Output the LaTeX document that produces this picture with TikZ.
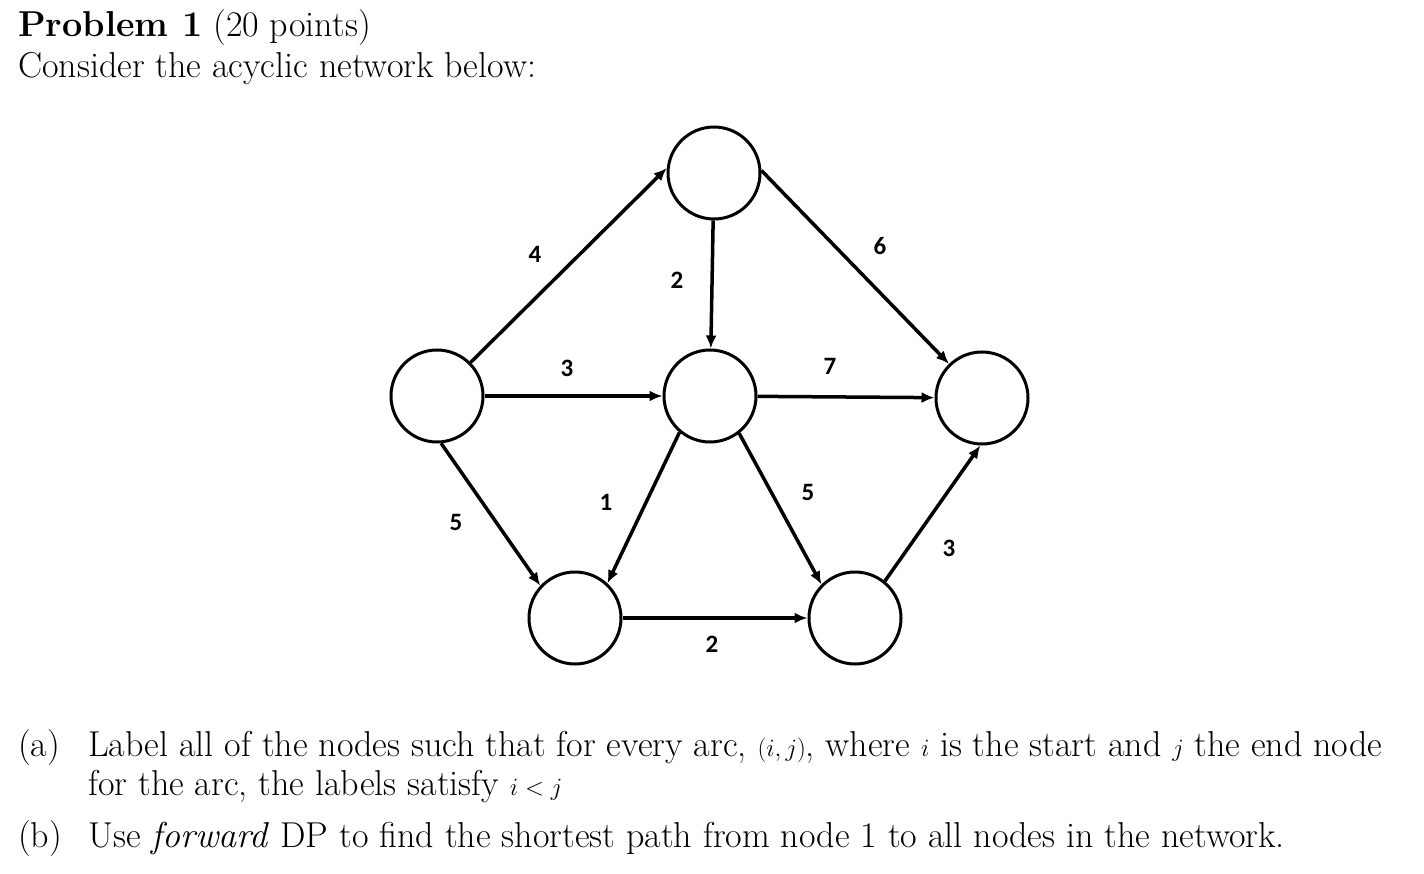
\documentclass[tikz,border=0pt]{standalone}
\usepackage{fontspec}
\newfontfamily\lab{Carlito}
\usetikzlibrary{arrows.meta}
\begin{document}
\begin{tikzpicture}[x=1pt,y=-1pt,
  vtx/.style={circle,draw,line width=3pt,minimum size=92pt,inner sep=0pt},
  arc/.style={line width=3.5pt,-{Latex[length=13pt,width=11pt]}},
  wt/.style={font=\lab\bfseries\fontsize{25}{30}\selectfont},
  txt/.style={anchor=base west,inner sep=0pt,font=\fontsize{36}{42}\selectfont}]
\useasboundingbox (0,0) rectangle (1424,874);
\node[txt] (t1) at (18,37) {\textbf{Problem 1} (20 points)};
\node[txt] (t2) at (18,78) {Consider the acyclic network below:};
\node[vtx] (T) at (714,173) {};
\node[vtx] (L) at (437,396) {};
\node[vtx] (C) at (710,396) {};
\node[vtx] (R) at (982,398) {};
\node[vtx] (BL) at (575,618) {};
\node[vtx] (BR) at (855,618) {};
\draw[arc] (L.45) -- (T.174);
\draw[arc] (T) -- (C);
\draw[arc] (T.3) -- (R.134);
\draw[arc] (L) -- (C);
\draw[arc] (C) -- (R);
\draw[arc] (L.-85) -- (BL.137);
\draw[arc] (C.-130) -- (BL.47);
\draw[arc] (C.-52) -- (BR.135);
\draw[arc] (BL) -- (BR);
\draw[arc] (BR.51) -- (R.-92);
\node[wt] (w1) at (535,254) {4};
\node[wt] (w2) at (677,280) {2};
\node[wt] (w3) at (880,246) {6};
\node[wt] (w4) at (567,368) {3};
\node[wt] (w5) at (830,366) {7};
\node[wt] (w6) at (456,522) {5};
\node[wt] (w7) at (606,502) {1};
\node[wt] (w8) at (808,492) {5};
\node[wt] (w9) at (712,644) {2};
\node[wt] (w10) at (949,548) {3};
\node[txt] (a1) at (18,756) {(a)};
\node[txt] (a2) at (88,756) {Label all of the nodes such that for every arc, $(i,j)$, where $i$ is the start and $j$ the end node};
\node[txt] (a3) at (88,795) {for the arc, the labels satisfy $i<j$};
\node[txt] (b1) at (18,847) {(b)};
\node[txt] (b2) at (88,847) {Use \textit{forward} DP to find the shortest path from node 1 to all nodes in the network.};
\end{tikzpicture}
\end{document}
